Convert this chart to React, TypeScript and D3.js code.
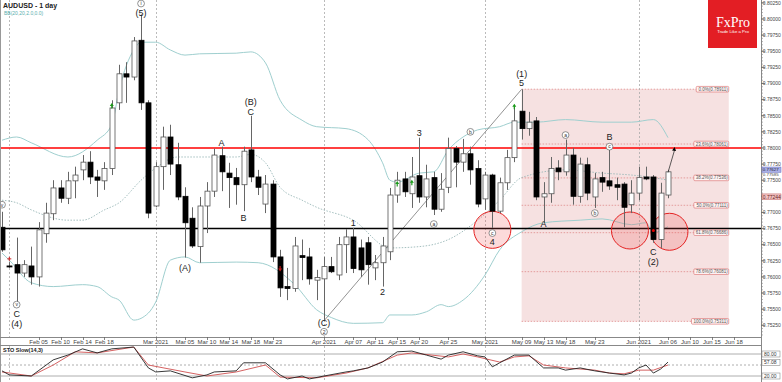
import React from 'react';
import * as d3 from 'd3';

// ---------- DATA ----------
const opens = [0.7677,0.7617,0.7619,0.7606,0.7617,0.7600,0.7667,0.7698,0.7738,0.7722,0.7749,0.7766,0.7778,0.7755,0.7749,0.7768,0.7870,0.7915,0.7910,0.7967,0.7870,0.7710,0.7771,0.7817,0.7774,0.7725,0.7691,0.7647,0.7710,0.7733,0.7788,0.7761,0.7754,0.7743,0.7797,0.7755,0.7713,0.7744,0.7631,0.7585,0.7582,0.7633,0.7631,0.7595,0.7597,0.7616,0.7603,0.7650,0.7662,0.7645,0.7653,0.7614,0.7622,0.7639,0.7727,0.7752,0.7729,0.7757,0.7724,0.7754,0.7705,0.7739,0.7799,0.7778,0.7791,0.7768,0.7721,0.7758,0.7702,0.7746,0.7785,0.7857,0.7830,0.7842,0.7724,0.7729,0.7769,0.7763,0.7789,0.7725,0.7774,0.7724,0.7754,0.7749,0.7743,0.7744,0.7712,0.7730,0.7755,0.7755,0.7658,0.7727];
const highs = [0.7701,0.7623,0.7661,0.7626,0.7647,0.7685,0.7715,0.7750,0.7750,0.7763,0.7771,0.7789,0.7795,0.7766,0.7778,0.7874,0.7929,0.7933,0.7972,0.8007,0.7874,0.7778,0.7833,0.7836,0.7808,0.7739,0.7708,0.7724,0.7747,0.7799,0.7802,0.7777,0.7769,0.7802,0.7850,0.7766,0.7758,0.7750,0.7642,0.7614,0.7662,0.7658,0.7645,0.7611,0.7631,0.7631,0.7662,0.7674,0.7676,0.7658,0.7662,0.7634,0.7662,0.7738,0.7763,0.7763,0.7786,0.7816,0.7774,0.7763,0.7761,0.7816,0.7803,0.7814,0.7802,0.7781,0.7763,0.7760,0.7754,0.7797,0.7864,0.7891,0.7856,0.7848,0.7747,0.7786,0.7781,0.7813,0.7800,0.7785,0.7785,0.7761,0.7763,0.7800,0.7754,0.7747,0.7750,0.7771,0.7771,0.7758,0.7746,0.7766];
const lows = [0.7639,0.7614,0.7560,0.7600,0.7588,0.7585,0.7653,0.7688,0.7715,0.7713,0.7722,0.7750,0.7744,0.7724,0.7735,0.7758,0.7859,0.7870,0.7905,0.7859,0.7691,0.7708,0.7735,0.7758,0.7719,0.7630,0.7645,0.7622,0.7668,0.7724,0.7733,0.7707,0.7712,0.7702,0.7747,0.7727,0.7699,0.7623,0.7569,0.7564,0.7577,0.7595,0.7588,0.7564,0.7532,0.7606,0.7595,0.7606,0.7606,0.7600,0.7588,0.7595,0.7585,0.7626,0.7715,0.7724,0.7707,0.7715,0.7708,0.7696,0.7701,0.7730,0.7739,0.7763,0.7743,0.7708,0.7704,0.7676,0.7699,0.7735,0.7778,0.7813,0.7819,0.7719,0.7684,0.7715,0.7750,0.7757,0.7712,0.7715,0.7719,0.7707,0.7732,0.7735,0.7719,0.7677,0.7699,0.7719,0.7750,0.7653,0.7645,0.7722];
const closes = [0.7642,0.7616,0.7606,0.7619,0.7600,0.7673,0.7699,0.7738,0.7722,0.7749,0.7758,0.7778,0.7755,0.7750,0.7768,0.7862,0.7915,0.7910,0.7966,0.7870,0.7699,0.7771,0.7817,0.7775,0.7724,0.7684,0.7648,0.7710,0.7733,0.7789,0.7763,0.7754,0.7743,0.7795,0.7755,0.7739,0.7744,0.7631,0.7583,0.7582,0.7648,0.7630,0.7597,0.7599,0.7616,0.7608,0.7650,0.7662,0.7613,0.7611,0.7619,0.7622,0.7648,0.7727,0.7750,0.7732,0.7755,0.7724,0.7752,0.7705,0.7736,0.7799,0.7778,0.7791,0.7766,0.7713,0.7758,0.7702,0.7746,0.7785,0.7842,0.7830,0.7840,0.7724,0.7729,0.7768,0.7763,0.7789,0.7725,0.7775,0.7730,0.7752,0.7747,0.7741,0.7739,0.7708,0.7730,0.7754,0.7752,0.7658,0.7730,0.7763];

const bbUpper: [number, number][] = [[0,0.7812],[2,0.7817],[4,0.7808],[9,0.7786],[13,0.7812],[15,0.7836],[16,0.7890],[18,0.7952],[19,0.7964],[21,0.7964],[23,0.7952],[25,0.7944],[27,0.7946],[32,0.7947],[34,0.7949],[36,0.7932],[38,0.7874],[41,0.7843],[43,0.7833],[47,0.7830],[50,0.7813],[52,0.7777],[53,0.7750],[54,0.7747],[57,0.7761],[59,0.7763],[61,0.7797],[63,0.7817],[65,0.7828],[68,0.7833],[70,0.7840],[73,0.7840],[77,0.7844],[82,0.7840],[86,0.7840],[89,0.7844],[91,0.7816]];
const bbMiddle: [number, number][] = [[0,0.7719],[2,0.7715],[4,0.7704],[9,0.7688],[11,0.7688],[14,0.7704],[16,0.7715],[19,0.7750],[21,0.7769],[24,0.7786],[27,0.7786],[32,0.7786],[34,0.7790],[36,0.7777],[38,0.7739],[41,0.7719],[43,0.7708],[48,0.7688],[53,0.7645],[57,0.7647],[61,0.7658],[65,0.7688],[68,0.7719],[71,0.7754],[77,0.7766],[82,0.7761],[86,0.7758],[89,0.7754],[91,0.7750]];
const bbLower: [number, number][] = [[0,0.7637],[1,0.7626],[4,0.7591],[7,0.7585],[11,0.7588],[13,0.7585],[15,0.7569],[16,0.7564],[18,0.7533],[20,0.7544],[21,0.7561],[23,0.7626],[25,0.7631],[27,0.7622],[32,0.7623],[35,0.7622],[40,0.7588],[43,0.7549],[45,0.7537],[48,0.7528],[52,0.7529],[53,0.7541],[56,0.7541],[58,0.7546],[60,0.7557],[61,0.7554],[63,0.7564],[66,0.7603],[68,0.7642],[71,0.7670],[74,0.7684],[79,0.7688],[82,0.7690],[86,0.7681],[88,0.7684],[89,0.7669],[91,0.7678]];

const stochK: [number, number][] = [[0,34],[1,23],[4,20],[7,64],[9,77],[11,94],[13,83],[15,94],[18,99],[20,42],[21,31],[23,34],[26,15],[28,23],[29,31],[32,34],[33,56],[36,56],[38,23],[39,12],[41,20],[42,12],[44,20],[47,31],[48,34],[50,42],[52,58],[54,86],[56,88],[58,77],[60,66],[61,77],[63,86],[65,75],[66,72],[67,45],[68,56],[70,77],[72,77],[74,42],[76,42],[77,36],[79,42],[81,34],[83,28],[85,23],[86,28],[87,42],[88,50],[89,28],[90,39],[91,58]];
const stochD: [number, number][] = [[0,31],[4,20],[7,50],[10,86],[13,83],[18,99],[20,50],[25,31],[28,20],[32,31],[36,50],[38,17],[43,15],[47,28],[50,42],[54,77],[56,83],[61,72],[63,80],[65,72],[68,58],[70,72],[72,75],[74,50],[77,42],[81,36],[83,28],[85,26],[87,36],[89,36],[91,50]];
const stochLevels: [number, string][] = [[80, '80.00'], [57.08, '57.08'], [20, '20.00']];

const dateLabels = ["Feb 05","Feb 10","Feb 14","Feb 18","Mar 2021","Mar 05","Mar 10","Mar 14","Mar 18","Mar 23","Apr 2021","Apr 07","Apr 11","Apr 15","Apr 20","Apr 25","May 2021","May 09","May 13","May 18","May 23","Jun 2021","Jun 06","Jun 10","Jun 15","Jun 18"];
const dateIdx = [5,8,11,14,21,25,28,31,34,37,44,48,51,54,57,61,66,71,74,77,81,87,91,94,97,100];
const monthIdx = [1,21,44,66,87];

const fibTop = 0.78911;
const fibBottom = 0.75311;
const fibLevels = [0, 23.6, 38.2, 50.0, 61.8, 78.6, 100.0];
const fibStartIdx = 71;
const fibEndIdx = 99.3;

const levelRed = 0.78;
const levelBlack = 0.7675;
const bidPrice = 0.77627;
const bandPrice = 0.77585;
const alertPrice = 0.77244;

const waveLabels: [number, number, string, boolean][] = [
  [0,0.7712,'v',true],[2,0.7557,'v',true],[2,0.7543,'C',false],[2,0.7527,'(4)',false],
  [19,0.8024,'i',true],[19,0.8010,'(5)',false],[25,0.7614,'(A)',false],[30,0.7808,'A',false],
  [33,0.7691,'B',false],[34,0.7871,'(B)',false],[34,0.7856,'C',false],[44,0.7529,'(C)',false],
  [44,0.7515,'2',true],[48,0.7684,'1',false],[52,0.7577,'2',false],[57,0.7823,'3',false],
  [59,0.7682,'a',true],[64,0.7825,'b',true],[67,0.7668,'c',true],[67,0.7654,'4',false],
  [71,0.7915,'(1)',false],[71,0.7901,'5',false],[74,0.7682,'A',false],[77,0.7820,'a',true],
  [81,0.7699,'b',true],[83,0.7817,'B',false],[83,0.7802,'c',true],[89,0.7639,'C',false],[89,0.7623,'(2)',false]
];
const circleMarks: [number, number][] = [[67,0.7673],[85.8,0.7672],[91.2,0.7670]];
const greenArrows: [number, number][] = [[15,0.7865],[54,0.7744],[56,0.7746],[70,0.7864]];
const redArrows: [number, number][] = [[38,0.7613]];
const trendFrom: [number, number] = [44, 0.7532];
const trendTo: [number, number] = [71, 0.7891];
const arrowFrom: [number, number] = [91, 0.7762];
const arrowTo: [number, number] = [91.9, 0.7800];

const FONT = '"Liberation Sans", Arial, sans-serif';

export default function App() {
  const W = 782, H = 382;
  const plotR = 761, plotB = 337;
  const x = d3.scaleLinear().domain([0, 91]).range([2, 668]);
  const y = d3.scaleLinear().domain([0.75, 0.8025]).range([341.4, 2.88]);
  const ys = d3.scaleLinear().domain([20, 80]).range([376, 354]);

  const bandLine = d3.line<[number, number]>().x(d => x(d[0])).y(d => y(d[1])).curve(d3.curveMonotoneX);
  const stLine = d3.line<[number, number]>().x(d => x(d[0])).y(d => ys(d[1])).curve(d3.curveLinear);

  const priceTicks = d3.range(0.7525, 0.80251, 0.0025);
  const minorTicks = d3.range(0.7500, 0.8030, 0.0005);

  const fibPrice = (lv: number) => fibTop - (fibTop - fibBottom) * lv / 100;
  const fx0 = x(fibStartIdx), fx1 = x(fibEndIdx);

  const axisText = (p: number, t: string, fill: string, key: string, dy = 0, fs = 5) => (
    <text key={key} x={762.8} y={y(p) + 1.8 + dy} fontSize={fs} fill={fill}>{t}</text>
  );

  return (
    <svg width={W} height={H} style={{ position: 'fixed', left: 0, top: 0, background: '#fff' }} fontFamily={FONT}>
      <defs>
        <clipPath id="mainclip"><rect x={0} y={0} width={plotR} height={plotB} /></clipPath>
        <clipPath id="stclip"><rect x={0} y={345} width={plotR} height={37} /></clipPath>
      </defs>
      <rect x={0} y={0} width={W} height={H} fill="#fff" />

      <g clipPath="url(#mainclip)">
        {/* fib rectangle */}
        <rect x={fx0} y={y(fibTop)} width={fx1 - fx0} height={y(fibBottom) - y(fibTop)} fill="#f6e1e1" />
        {fibLevels.map((lv, i) => (
          <line key={'fl' + i} x1={fx0} x2={fx1 - 30} y1={y(fibPrice(lv))} y2={y(fibPrice(lv))} stroke="#df8c8c" strokeWidth={0.8} strokeDasharray="1.5,1.5" />
        ))}
        {/* month dashed lines */}
        {monthIdx.map((m, i) => (
          <line key={'ml' + i} x1={Math.round(x(m)) + 0.5} x2={Math.round(x(m)) + 0.5} y1={0} y2={plotB} stroke="#aaa" strokeWidth={0.8} strokeDasharray="2,2" />
        ))}
        {/* bollinger */}
        <path d={bandLine(bbUpper) || ''} fill="none" stroke="#9fcfcf" strokeWidth={1} />
        <path d={bandLine(bbLower) || ''} fill="none" stroke="#9fcfcf" strokeWidth={1} />
        <path d={bandLine(bbMiddle) || ''} fill="none" stroke="#9ab8b8" strokeWidth={0.9} strokeDasharray="1.5,1.5" />
        {/* trend line */}
        <line x1={x(trendFrom[0])} y1={y(trendFrom[1])} x2={x(trendTo[0])} y2={y(trendTo[1])} stroke="#777" strokeWidth={0.8} />
        {/* level lines */}
        <line x1={0} x2={plotR} y1={y(levelRed)} y2={y(levelRed)} stroke="#ff0000" strokeWidth={1.5} />
        <line x1={0} x2={plotR} y1={y(levelBlack)} y2={y(levelBlack)} stroke="#000" strokeWidth={1.5} />
        {/* circles */}
        {circleMarks.map((c, i) => (
          <circle key={'c' + i} cx={x(c[0])} cy={y(c[1])} r={18.5} fill="rgba(240,70,70,0.2)" stroke="#e52222" strokeWidth={1} />
        ))}
        {/* candles */}
        {opens.map((o, i) => {
          const c = closes[i];
          const cx = Math.round(x(i));
          const top = y(Math.max(o, c));
          const bot = y(Math.min(o, c));
          const bull = c >= o;
          return (
            <g key={'k' + i}>
              <line x1={cx + 0.5} x2={cx + 0.5} y1={y(highs[i])} y2={y(lows[i])} stroke="#666" strokeWidth={1} />
              <rect x={cx - 2} y={top} width={5} height={Math.max(1, bot - top)} fill={bull ? '#fff' : '#000'} stroke={bull ? '#555' : '#000'} strokeWidth={0.8} />
            </g>
          );
        })}
        <circle cx={x(89)} cy={y(0.7672)} r={1.5} fill="#d00" />
        {/* markers */}
        {greenArrows.map((g, i) => {
          const cx = x(g[0]), cy = y(g[1]);
          return <path key={'g' + i} d={`M${cx},${cy - 3}L${cx - 2},${cy}L${cx - 0.6},${cy}L${cx - 0.6},${cy + 2.5}L${cx + 0.6},${cy + 2.5}L${cx + 0.6},${cy}L${cx + 2},${cy}Z`} fill="#1a9a1a" />;
        })}
        {redArrows.map((g, i) => {
          const cx = x(g[0]), cy = y(g[1]);
          return <path key={'r' + i} d={`M${cx},${cy + 3}L${cx - 2},${cy}L${cx - 0.6},${cy}L${cx - 0.6},${cy - 2.5}L${cx + 0.6},${cy - 2.5}L${cx + 0.6},${cy}L${cx + 2},${cy}Z`} fill="#c01818" />;
        })}
        <path d={`M${x(1) - 2},${y(0.7628)}h4M${x(1)},${y(0.7628) - 2}v4`} stroke="#d02020" strokeWidth={1} />
        {/* end arrow */}
        <line x1={x(arrowFrom[0])} y1={y(arrowFrom[1])} x2={x(arrowTo[0])} y2={y(arrowTo[1]) + 2} stroke="#333" strokeWidth={0.8} />
        <path d={`M${x(arrowTo[0])},${y(arrowTo[1]) - 1}l-2.5,3.5l4,0.5z`} fill="#000" />
        {/* fib labels */}
        {fibLevels.map((lv, i) => {
          const p = fibPrice(lv);
          const t = `${lv.toFixed(1)}%(${p.toFixed(5)})`;
          const w = t.length * 2.35 + 2;
          return (
            <g key={'fb' + i}>
              <rect x={fx1 - w} y={y(p) - 2.8} width={w} height={5.6} rx={1} fill="#fff4f4" stroke="#d86a6a" strokeWidth={0.6} />
              <text x={fx1 - 1} y={y(p) + 1.6} fontSize={4.5} textAnchor="end" fill="#555">{t}</text>
            </g>
          );
        })}
        {/* wave labels */}
        {waveLabels.map((l, i) => {
          const cx = x(l[0]), cy = y(l[1]);
          if (l[3]) {
            return (
              <g key={'w' + i}>
                <circle cx={cx} cy={cy} r={3.4} fill="#fff" stroke="#666" strokeWidth={0.7} />
                <text x={cx} y={cy + 1.8} fontSize={5} textAnchor="middle" fill="#333">{l[2]}</text>
              </g>
            );
          }
          return <text key={'w' + i} x={cx} y={cy + 3.2} fontSize={9} textAnchor="middle" fill="#222">{l[2]}</text>;
        })}
      </g>

      {/* title */}
      <text x={3} y={8} fontSize={7} fontWeight="bold" fill="#222">AUDUSD - 1 day</text>
      <text x={4} y={15} fontSize={5} fill="#5aaeae">BB(20,20,2.0,0.0)</text>

      {/* logo */}
      <rect x={708} y={0} width={49} height={48} fill="#e31e24" />
      <text x={733} y={27} fontSize={14} textAnchor="middle" fill="#fff" fontFamily='"Liberation Serif", "DejaVu Serif", serif'>FxPro</text>
      <text x={733} y={33} fontSize={4.3} textAnchor="middle" fill="#fff">Trade Like a Pro</text>

      {/* frame */}
      <line x1={0.5} x2={0.5} y1={0} y2={H} stroke="#999" strokeWidth={1} />
      <line x1={0} x2={plotR} y1={plotB + 0.5} y2={plotB + 0.5} stroke="#888" strokeWidth={1} />
      <line x1={plotR + 0.5} x2={plotR + 0.5} y1={0} y2={H} stroke="#888" strokeWidth={1} />

      {/* price axis */}
      {minorTicks.map((p, i) => (y(p) > 0 && y(p) < plotB ? <line key={'mt' + i} x1={plotR} x2={plotR + 2} y1={y(p)} y2={y(p)} stroke="#888" strokeWidth={0.6} /> : null))}
      {priceTicks.map((p, i) => (
        <g key={'pt' + i}>
          <line x1={plotR} x2={plotR + 4} y1={y(p)} y2={y(p)} stroke="#666" strokeWidth={0.8} />
          {axisText(p, p.toFixed(5), '#444', 'ptt' + i)}
        </g>
      ))}
      <rect x={762} y={y(bidPrice) - 5} width={19} height={5.4} fill="#a9afe6" stroke="#6a70c0" strokeWidth={0.5} />
      {axisText(bidPrice, bidPrice.toFixed(5), '#223', 'bid', -2.6, 4.4)}
      {axisText(bandPrice, bandPrice.toFixed(5), '#444', 'band', -0.2, 4.4)}
      <rect x={762} y={y(alertPrice) - 2.8} width={19} height={5.6} fill="#f2c2c2" stroke="#c06060" strokeWidth={0.5} />
      {axisText(alertPrice, alertPrice.toFixed(5), '#622', 'alert')}

      {/* date axis */}
      {dateIdx.map((d, i) => (
        <g key={'dt' + i}>
          <line x1={Math.round(x(d)) + 0.5} x2={Math.round(x(d)) + 0.5} y1={plotB} y2={plotB + 3} stroke="#666" strokeWidth={0.8} />
          <text x={x(d)} y={344} fontSize={6} textAnchor="middle" fill="#444">{dateLabels[i]}</text>
        </g>
      ))}

      {/* stochastic panel */}
      <line x1={0} x2={plotR} y1={345.5} y2={345.5} stroke="#888" strokeWidth={1} />
      <line x1={0} x2={plotR} y1={ys(80)} y2={ys(80)} stroke="#999" strokeWidth={0.8} />
      <line x1={0} x2={plotR} y1={ys(20)} y2={ys(20)} stroke="#999" strokeWidth={0.8} />
      <line x1={0} x2={plotR} y1={ys(50)} y2={ys(50)} stroke="#999" strokeWidth={0.8} strokeDasharray="2,2" />
      {monthIdx.map((m, i) => (
        <line key={'sm' + i} x1={Math.round(x(m)) + 0.5} x2={Math.round(x(m)) + 0.5} y1={346} y2={H} stroke="#aaa" strokeWidth={0.8} strokeDasharray="2,2" />
      ))}
      <g clipPath="url(#stclip)">
        <path d={stLine(stochD) || ''} fill="none" stroke="#d05050" strokeWidth={0.9} />
        <path d={stLine(stochK) || ''} fill="none" stroke="#222" strokeWidth={0.9} />
      </g>
      <text x={3} y={352} fontSize={5.5} fontWeight="bold" fill="#222">STO Slow(14,3)</text>
      {stochLevels.map((s, i) => (
        <g key={'sl' + i}>
          <rect x={762} y={ys(s[0]) - 3} width={18} height={6} fill="#fff" stroke="#777" strokeWidth={0.5} />
          <text x={764} y={ys(s[0]) + 1.8} fontSize={5} fill="#333">{s[1]}</text>
        </g>
      ))}
    </svg>
  );
}
